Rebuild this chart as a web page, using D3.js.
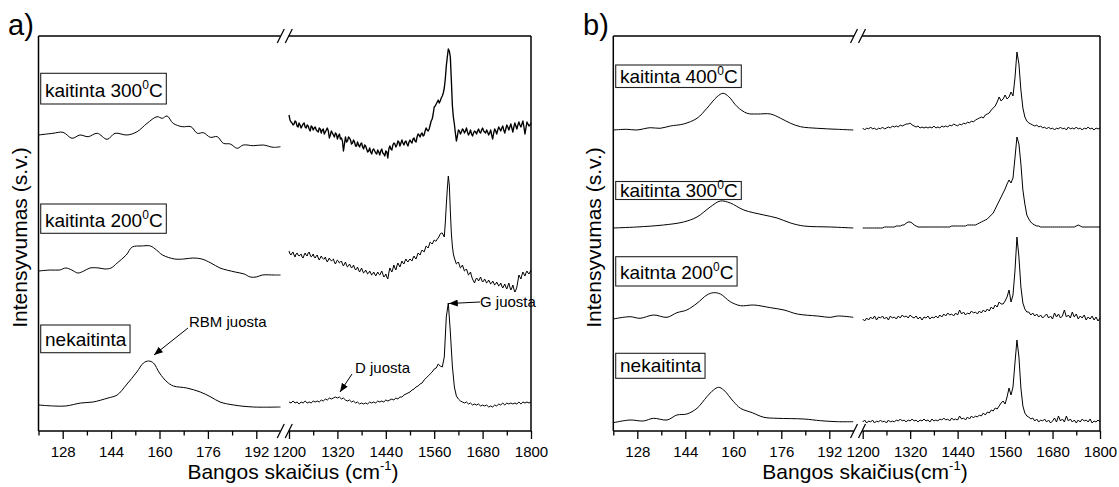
<!DOCTYPE html>
<html>
<head>
<meta charset="utf-8">
<script src="https://cdn.jsdelivr.net/npm/d3@7"></script>
<style>
  html, body { margin: 0; padding: 0; background: #fff; }
  svg text { font-family: "Liberation Sans", Arial, Helvetica, sans-serif; fill: #000; }
</style>
</head>
<body>
<svg id="chart" width="1119" height="487"></svg>
<script>
// ---------------- axis ticks ----------------
const lowTicks = [128, 144, 160, 176, 192];
const lowMinor = [120, 136, 152, 168, 184];
const highTicks = [1200, 1320, 1440, 1560, 1680, 1800];
const highMinor = [1260, 1380, 1500, 1620, 1740];
const lowDomain = [120, 200];
const highDomain = [1200, 1800];

// 1200–1800 cm-1 region is sampled every 5 cm-1; the two noisiest
// spectra of panel a) also carry the in-between readings (x.5 grid)
const highWn = d3.range(1200, 1801, 5);
const highWnHalf = d3.range(1202.5, 1800, 5);

// ---------------- panel a) spectra (intensity above each trace's baseline) ----------------
const a300LowWn = [120,124.8,128.1,131.1,133.7,136.4,139.4,142.7,145.3,149.3,152.6,155.9,159.2,160.9,162.5,164.5,167.5,170.4,172.5,174.5,176.8,179.1,181.1,183.4,185.7,187.7,191,194.3,197.6,200];
const a300Low = [0,1.7,2.7,-3.3,0,-1.7,1.7,-4.3,1.7,0,3.3,11.7,18.3,16.7,19,11.7,8.3,8.3,1.7,2.3,-2.3,-1.7,-8.3,-9,-13.3,-10,-10.7,-10,-12.3,-11.7];
const a300High = [
  20,13,10,14,9,12,7,11,8,10,
  6,9,5,8,4,7,2,6,3,7,
  -3,4,0,2,-4,1,-3,-16,-2,-6,
  -3,-9,-5,-11,-7,-12,-8,-14,-11,-17,
  -13,-19,-14,-18,-15,-20,-14,-19,-16,-23,
  -11,-15,-8,-12,-6,-11,-5,-10,-6,-11,
  -5,-8,-3,-7,1,-2,2,0,7,4,
  10,16,28,31,35,34,39,47,69,86,
  78,30,11,-6,5,1,6,2,7,0,
  5,-1,4,1,6,2,7,3,5,0,
  5,-4,6,1,8,4,9,2,10,5,
  11,3,12,6,13,8,14,1,13,9,
  12];
const a300HighHalf = [
  15,12,11,13,8,10,9,12,7,9,
  4,8,7,5,3,6,5,1,5,4,
  0,2,-2,1,-1,-4,-6,-9,-7,-2,
  -5,-8,-7,-11,-10,-9,-12,-10,-14,-16,
  -17,-15,-16,-19,-17,-16,-18,-21,-17,-14,
  -14,-10,-9,-10,-7,-8,-8,-7,-9,-7,
  -7,-4,-6,-2,0,1,-1,4,5,6,
  14,21,29,33,32,37,42,56,78,84,
  55,18,2,-1,4,3,5,4,3,2,
  1,2,3,4,3,5,4,2,3,2,
  0,2,4,5,6,7,5,6,8,8,
  7,8,9,10,10,11,8,7,11,10];

const a200LowWn = [120,124,127,129,131,133,135,137,140,142,144,146,149,151,154,157,159,161,165,168,171,174,177,180,185,188,190,192,194,198,200];
const a200Low = [0,1,1,3,1,-2,0,3,3,2,3,8,16,24,25,25,21,16,12,12,13,12,8,3,-1,-3,-6,-6,-4,-4,-4];
const a200High = [
  20,16,19,14,18,15,17,13,18,15,
  19,14,17,13,16,11,15,12,14,9,
  13,10,12,7,11,8,10,5,9,4,
  7,3,6,1,4,-1,3,-2,1,-3,
  0,-4,-1,-5,-1,-4,0,-6,-3,-8,
  3,-1,6,1,8,4,10,7,12,9,
  12,10,15,12,18,16,21,19,25,23,
  29,27,31,30,33,37,38,34,66,95,
  60,25,13,7,9,3,6,0,2,-4,
  -1,-8,-12,-7,-10,-6,-11,-8,-12,-9,
  -13,-10,-14,-11,-15,-12,-17,-13,-18,-12,
  -19,-14,-21,-16,-4,-8,-1,-5,0,-3,
  1];
const a200HighHalf = [
  17,18,16,17,16,16,14,16,16,18,
  16,15,14,15,13,13,13,12,11,11,
  11,11,9,9,10,9,7,7,6,5,
  5,4,3,2,1,1,0,-1,-1,-2,
  -2,-3,-3,-3,-3,-2,-3,-5,-6,-2,
  1,2,3,5,6,7,8,10,10,11,
  11,13,13,15,17,19,20,22,24,26,
  28,29,30,32,35,38,36,48,82,86,
  38,17,10,8,6,4,3,1,-1,-3,
  -5,-10,-9,-8,-8,-9,-10,-10,-11,-11,
  -12,-12,-13,-13,-14,-15,-15,-16,-15,-16,
  -17,-18,-19,-10,-6,-4,-3,-2,-2,-1];

const aRawLowWn = [120,125,129,134,138,143,146,149,152.5,154.7,156.4,158,160,162.5,164.6,169,173.5,177,180,184.5,191,200];
const aRawLow = [-3,-4,-4,-1,0,4,7,17,30,39,41,39,29,20,16,14,10,5,0,-3,-5,-5];
const aRawHigh = [
  0,-1,1,-1,0,-2,0,-1,1,-1,
  0,-1,1,0,1,0,2,1,3,2,
  4,3,4,5,4,5,3,4,2,1,
  2,0,1,-1,0,-2,-1,-2,-1,-2,
  0,-1,0,-1,1,0,1,0,2,1,
  2,3,2,4,3,5,5,7,8,9,
  10,12,13,15,16,18,19,22,24,26,
  28,30,33,34,38,36,35,45,85,99,
  70,36,15,6,3,1,0,-1,0,-2,
  -1,-3,-2,-3,-2,-4,-3,-4,-3,-5,
  -4,-5,-3,-4,-2,-3,-1,-3,-1,-2,
  -1,-2,-1,-2,0,-2,0,-1,0,-1,
  0];

// ---------------- panel b) spectra ----------------
const b400LowWn = [120,124.5,127.8,132.3,135.6,139,143.4,147.9,151.2,154.6,156.6,158.5,161.3,164.6,168,172.4,175.8,179.1,182.4,188,194.7,200];
const b400Low = [0,0.7,0,2.3,1.7,4,6,11.7,21.7,33.3,36.7,33.3,23.3,16.7,16,16,11.7,6.7,3.3,1.7,0.7,0];
const b400High = [
  2,0,2,1,3,1,2,0,2,1,
  3,1,2,3,2,4,3,4,3,5,
  4,5,6,6,7,5,4,3,4,2,
  3,2,3,2,3,2,4,2,3,2,
  4,3,4,3,5,4,6,5,4,6,
  5,7,6,8,7,9,8,10,11,12,
  13,12,15,16,17,20,22,24,28,33,
  29,31,35,31,33,38,34,52,78,66,
  40,22,13,9,7,6,5,4,5,3,
  4,2,3,1,3,1,2,0,2,1,
  3,1,2,0,3,1,2,1,3,1,
  2,0,2,1,3,1,2,0,2,1,
  2];

const b300LowWn = [120,127.8,136.7,143.4,147.9,152.3,155.7,159,163.5,170.2,174.6,179.1,183.5,192.5,200];
const b300Low = [0,1,3,6,11,21,27,25,18,13,10,5,2,1,0];
const b300High = [
  0,0,0,0,0,0,0,0,0,0,
  0,1,1,1,1,1,1,2,2,2,
  3,3,5,6,6,5,3,2,1,1,
  1,1,1,1,1,1,1,1,1,1,
  1,1,1,1,1,2,2,2,2,2,
  2,2,2,3,3,3,3,3,4,5,
  6,7,8,9,11,13,15,19,23,27,
  31,35,39,44,48,45,50,70,91,84,
  64,38,24,13,9,6,4,3,2,2,
  1,1,1,1,1,1,1,1,1,1,
  1,1,1,1,1,1,1,1,2,3,
  2,1,1,1,1,1,1,1,1,1,
  1];

const b200LowWn = [120,125.6,128.9,133.4,137.9,141.2,144.5,147.9,151.2,153.4,155.7,159,162.4,166.8,172.4,176.9,181.3,188,192.5,194.7,200];
const b200Low = [0,2.3,0.7,4,1.7,6.3,9,15.7,24,26.3,25,17.3,13.3,14,11.3,9,5,3,1.7,3,1.7];
const b200High = [
  0,-2,1,-1,2,0,3,-1,2,1,
  3,0,2,-1,3,1,2,0,3,1,
  4,2,3,1,4,2,1,3,0,2,
  -1,2,1,3,0,2,1,3,1,4,
  2,5,3,6,4,5,3,6,4,9,
  5,7,4,6,5,8,6,7,5,8,
  6,9,7,10,8,12,10,14,12,17,
  15,15,18,22,29,17,24,48,82,62,
  32,16,10,7,7,4,6,3,5,2,
  4,1,3,5,1,3,0,6,2,5,
  1,3,9,2,4,1,7,2,5,0,
  3,1,4,-1,2,0,3,-1,2,-2,
  1];

const bRawLowWn = [120,125.6,130,133.4,137.9,141.2,144.5,147.9,151.2,153.4,155.1,156.8,160.1,162.4,166.3,170.2,174.6,183.5,189.1,194.7,200];
const bRawLow = [0.3,3,2,4.7,3,8,9,14.7,26.3,33,35.7,33,21.3,14.7,10.3,5.7,4.7,4,2.3,1.3,1.3];
const bRawHigh = [
  1,3,0,2,1,3,0,2,1,3,
  1,2,0,3,1,2,1,3,2,4,
  2,3,1,3,2,4,2,3,1,3,
  2,4,2,3,1,4,2,3,2,4,
  3,5,3,4,2,5,3,4,3,7,
  4,5,3,6,4,7,5,7,6,8,
  7,10,8,11,10,13,12,15,14,17,
  20,22,19,26,35,28,36,60,83,66,
  35,17,10,7,6,4,5,2,4,1,
  3,2,4,1,3,0,2,5,1,7,
  2,4,1,7,2,4,1,3,0,3,
  1,4,2,3,1,4,0,2,1,3,
  1];

// vertical stacking offsets (s.v.)
const offsetsA = [296, 160, 29];
const offsetsB = [301, 203, 112, 8];

// ---------------- layout ----------------
const svg = d3.select('#chart');
const FONT = '"Liberation Sans", Arial, Helvetica, sans-serif';

const defs = svg.append('defs');
defs.append('marker')
  .attr('id', 'arrowHead')
  .attr('viewBox', '0 0 10 8')
  .attr('refX', 10).attr('refY', 4)
  .attr('markerWidth', 9).attr('markerHeight', 7)
  .attr('markerUnits', 'userSpaceOnUse')
  .attr('orient', 'auto')
  .append('path').attr('d', 'M0,0 L10,4 L0,8 Z').attr('fill', '#000');

const panels = [
  {
    letter: 'a)', letterX: 8,
    x0: 38.5, lowEnd: 280.5, highStart: 289, x1: 531, y0: 36, y1: 431,
    xTitle: 'Bangos skaičius (cm', xTitleX: 293, yTitleX: 27,
    traces: [
      { lowWn: a300LowWn, low: a300Low, high: a300High, half: a300HighHalf, offset: offsetsA[0], weight: 1.35,
        label: ['kaitinta 300', '0', 'C'], box: [40.7, 73.3, 104, 96.7] },
      { lowWn: a200LowWn, low: a200Low, high: a200High, half: a200HighHalf, offset: offsetsA[1],
        label: ['kaitinta 200', '0', 'C'], box: [40.7, 204, 233.3, 226.7] },
      { lowWn: aRawLowWn, low: aRawLow, high: aRawHigh, offset: offsetsA[2],
        label: ['nekaitinta'], box: [40.7, 325, 352.7, 346] }
    ],
    notes: [
      { text: 'RBM juosta', tx: 189, ty: 326.7, from: [188, 328], to: [154, 355] },
      { text: 'D juosta', tx: 355, ty: 372.7, from: [352, 374], to: [340, 392] },
      { text: 'G juosta', tx: 480, ty: 307.3, from: [480, 302], to: [449, 303.5] }
    ]
  },
  {
    letter: 'b)', letterX: 583,
    x0: 613.3, lowEnd: 853.3, highStart: 862.7, x1: 1100, y0: 36, y1: 431,
    xTitle: 'Bangos skaičius(cm', xTitleX: 865, yTitleX: 601,
    traces: [
      { lowWn: b400LowWn, low: b400Low, high: b400High, offset: offsetsB[0],
        label: ['kaitinta 400', '0', 'C'], box: [615.7, 65, 87.5, 83.3] },
      { lowWn: b300LowWn, low: b300Low, high: b300High, offset: offsetsB[1],
        label: ['kaitinta 300', '0', 'C'], box: [615.7, 181.5, 199.5, 197] },
      { lowWn: b200LowWn, low: b200Low, high: b200High, offset: offsetsB[2],
        label: ['kaitnta 200', '0', 'C'], box: [615.7, 256.7, 286, 279.3] },
      { lowWn: bRawLowWn, low: bRawLow, high: bRawHigh, offset: offsetsB[3],
        label: ['nekaitinta'], box: [615.7, 353.3, 378.3, 371.7] }
    ],
    notes: []
  }
];

function slash(g, cx, cy) {
  g.append('line')
    .attr('x1', cx - 3.5).attr('y1', cy + 7)
    .attr('x2', cx + 3.5).attr('y2', cy - 7)
    .attr('stroke', '#000').attr('stroke-width', 1.3);
}

panels.forEach(p => {
  const g = svg.append('g');
  const xLow = d3.scaleLinear().domain(lowDomain).range([p.x0, p.lowEnd]);
  const xHigh = d3.scaleLinear().domain(highDomain).range([p.highStart, p.x1]);
  const y = d3.scaleLinear().domain([0, 395]).range([p.y1, p.y0]);
  const mid = (p.lowEnd + p.highStart) / 2;

  // spectra
  const lowLine = d3.line().x(d => xLow(d[0])).y(d => y(d[1])).curve(d3.curveCatmullRom.alpha(0.5));
  const highLine = d3.line().x(d => xHigh(d[0])).y(d => y(d[1]));
  p.traces.forEach(t => {
    const lowPts = t.lowWn.map((w, i) => [w, t.offset + t.low[i]]);
    let highPts = highWn.map((w, i) => [w, t.offset + t.high[i]]);
    if (t.half) {
      highPts = highPts.concat(highWnHalf.map((w, i) => [w, t.offset + t.half[i]]))
        .sort((a, b) => a[0] - b[0]);
    }
    g.append('path').attr('d', lowLine(lowPts))
      .attr('fill', 'none').attr('stroke', '#000').attr('stroke-width', 1);
    g.append('path').attr('d', highLine(highPts))
      .attr('fill', 'none').attr('stroke', '#000').attr('stroke-width', t.weight || 1)
      .attr('stroke-linejoin', 'round');
  });

  // bottom axis: major ticks with labels, minor ticks without
  const axisY = p.y1;
  const addAxis = (scale, values, size, labelled) => {
    const ax = d3.axisBottom(scale).tickValues(values).tickSize(size).tickPadding(7)
      .tickFormat(labelled ? d3.format('d') : () => '');
    const ag = g.append('g').attr('transform', `translate(0,${axisY})`).call(ax);
    ag.attr('font-size', 15).attr('font-family', FONT);
    ag.select('.domain').remove();
    ag.selectAll('line').attr('stroke', '#000').attr('stroke-width', 1.3);
    ag.selectAll('text').attr('font-size', 15).attr('fill', '#000');
  };
  addAxis(xLow, lowTicks, 8, true);
  addAxis(xLow, lowMinor, 4.5, false);
  addAxis(xHigh, highTicks, 8, true);
  addAxis(xHigh, highMinor, 4.5, false);

  // frame with axis break
  const fr = g.append('g').attr('stroke', '#000').attr('stroke-width', 1.5).attr('fill', 'none');
  fr.append('line').attr('x1', p.x0).attr('y1', p.y0).attr('x2', p.x0).attr('y2', p.y1);
  fr.append('line').attr('x1', p.x1).attr('y1', p.y0).attr('x2', p.x1).attr('y2', p.y1);
  [p.y0, p.y1].forEach(yy => {
    fr.append('line').attr('x1', p.x0).attr('y1', yy).attr('x2', mid - 4).attr('y2', yy);
    fr.append('line').attr('x1', mid + 4).attr('y1', yy).attr('x2', p.x1).attr('y2', yy);
    slash(g, mid - 4, yy);
    slash(g, mid + 4, yy);
  });

  // labelled boxes
  p.traces.forEach(t => {
    const [bx, by0, by1, base] = t.box;
    const lg = g.append('g');
    const rect = lg.append('rect');
    const txt = lg.append('text').attr('x', bx + 4.3).attr('y', base)
      .attr('font-size', 19).attr('font-family', FONT);
    txt.append('tspan').text(t.label[0]);
    if (t.label.length > 1) {
      txt.append('tspan').attr('font-size', 12).attr('dy', -8).text(t.label[1]);
      txt.append('tspan').attr('dy', 8).text(t.label[2]);
    }
    const w = txt.node().getComputedTextLength();
    rect.attr('x', bx).attr('y', by0)
      .attr('width', w + 8).attr('height', by1 - by0)
      .attr('fill', 'none').attr('stroke', '#222').attr('stroke-width', 1.1);
  });

  // band annotations
  p.notes.forEach(n => {
    g.append('text').attr('x', n.tx).attr('y', n.ty)
      .attr('font-size', 15).attr('font-family', FONT).text(n.text);
    g.append('line')
      .attr('x1', n.from[0]).attr('y1', n.from[1])
      .attr('x2', n.to[0]).attr('y2', n.to[1])
      .attr('stroke', '#000').attr('stroke-width', 1)
      .attr('marker-end', 'url(#arrowHead)');
  });

  // panel letter
  g.append('text').attr('x', p.letterX).attr('y', 35)
    .attr('font-size', 29).attr('font-family', FONT).text(p.letter);

  // axis titles
  const xt = g.append('text').attr('x', p.xTitleX).attr('y', 479)
    .attr('text-anchor', 'middle').attr('font-size', 21).attr('font-family', FONT);
  xt.append('tspan').text(p.xTitle);
  xt.append('tspan').attr('font-size', 13).attr('dy', -9).text('-1');
  xt.append('tspan').attr('dy', 9).text(')');

  g.append('text')
    .attr('transform', `translate(${p.yTitleX},${(p.y0 + p.y1) / 2 + 4}) rotate(-90)`)
    .attr('text-anchor', 'middle').attr('font-size', 21).attr('font-family', FONT)
    .text('Intensyvumas (s.v.)');
});
</script>
</body>
</html>
